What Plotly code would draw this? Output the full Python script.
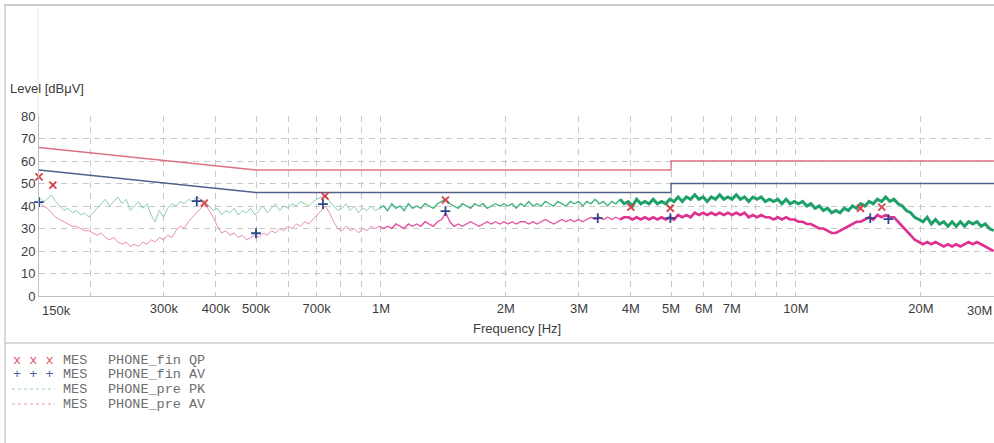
import plotly.graph_objects as go

# ---------------- data ----------------
# sweep grid: 0.01-decade steps from 150 kHz
F0 = 150e3
STEP_DEC = 0.01

pk_level = [
    44, 42, 43, 45, 42, 40, 38, 39, 37, 38,
    36, 37, 35, 37, 39, 41, 43, 40, 42, 44,
    41, 43, 38, 40, 42, 39, 41, 36, 33, 38,
    35, 39, 41, 40, 42, 41, 43, 42, 44, 43,
    42, 40, 38, 39, 36, 38, 37, 39, 36, 38,
    37, 39, 36,
    38, 40, 37, 39, 41, 38, 40, 39, 41, 40, 42, 41, 40, 42, 43, 44, 45,
    42, 40, 38, 39, 41, 38, 40, 37, 39, 38, 40, 38, 39,
    40, 38, 41, 39, 40, 38, 41, 39, 40, 39, 41, 40, 39, 41, 42,
    43,
    41, 40, 39, 41, 40, 39, 41, 40, 41, 39, 40, 41, 40,
    41, 40, 41, 39, 41, 40, 42, 40, 41, 40, 42, 41, 40, 42, 41, 40, 42, 41,
    42, 40, 42, 41, 43, 41, 42, 40, 42, 41, 43, 41, 42, 40, 43, 41, 42, 41, 43, 41, 42, 41,
    43, 42, 44, 42, 44, 43, 45, 43, 44, 42, 44, 43, 45, 43, 44, 43,
    45, 43, 44, 42, 44, 43, 44, 42, 43, 42, 43, 41, 43, 41,
    42, 41, 42, 40, 41, 39, 40, 38, 39, 37, 38,
    37, 39, 38, 40, 39, 41, 40, 42, 41, 43, 42, 44, 42,
    43, 41, 40, 38, 37, 35, 34,
    33, 35, 32, 34, 32, 33, 31, 33, 31, 33, 31, 33, 32, 33, 31, 32, 30, 29,
]

av_level = [
    42, 40, 39, 37, 35, 34, 33, 32, 31, 31, 30, 29, 29,
    28, 27, 28, 26, 25, 26, 24, 23, 24, 22, 23, 22, 24, 23, 25, 24, 26,
    25, 27, 26, 29, 31, 30, 33, 35, 37, 39, 41,
    38, 35, 31, 28, 29, 27, 28, 26, 27, 25, 26, 27,
    26, 28, 27, 29, 28, 30, 29, 31, 30, 32, 31, 33, 32, 34, 36, 38, 40,
    37, 33, 30, 29, 31, 29, 30, 28, 30, 29, 31, 30, 31,
    30, 31, 30, 32, 31, 30, 32, 31, 32, 31, 33, 32, 31, 33, 34,
    37,
    33, 31, 32, 31, 32, 33, 32, 31, 32, 33, 32, 33, 32,
    33, 32, 33, 32, 33, 33, 32, 33, 32, 33, 34, 33, 32, 33, 34, 33, 34, 33,
    34, 33, 34, 35, 34, 35, 34, 35, 34, 35, 34, 35, 35, 34, 35, 34, 35, 34, 35, 34, 35, 34,
    35, 34, 36, 35, 36, 35, 37, 36, 37, 36, 37, 36, 37, 36, 37, 36,
    37, 36, 37, 35, 36, 35, 36, 35, 35, 34, 35, 34, 35, 34,
    34, 33, 33, 32, 32, 31, 30, 30, 29, 28, 28,
    29, 30, 31, 32, 33, 33, 34, 35, 34, 36, 35, 36, 35,
    35, 33, 31, 29, 27, 25, 24,
    23, 24, 23, 24, 23, 22, 23, 22, 23, 22, 23, 24, 23, 24, 23, 22, 21, 20,
]

# limit lines (EN 55022 class B)
lim_freq = [150e3, 500e3, 5e6, 5e6, 30e6]
qp_limit = [66, 56, 56, 60, 60]
av_limit = [56, 46, 46, 50, 50]

# final measurement points
qp_freq = [150e3, 162e3, 375e3, 733e3, 1.43e6, 4.0e6, 4.98e6, 14.3e6, 16.1e6]
qp_level = [52.9, 49.3, 41.3, 44.4, 42.6, 39.5, 39.0, 39.0, 39.5]
av_freq = [150e3, 360e3, 500e3, 725e3, 1.43e6, 3.33e6, 4.98e6, 15.1e6, 16.7e6]
av_mlevel = [41.7, 42.2, 27.9, 40.8, 37.7, 34.6, 34.6, 34.6, 34.2]

tick_vals = [150e3, 200e3, 300e3, 400e3, 500e3, 600e3, 700e3, 800e3, 900e3,
             1e6, 2e6, 3e6, 4e6, 5e6, 6e6, 7e6, 8e6, 9e6, 10e6, 20e6, 30e6]
tick_text = ["", "", "300k", "400k", "500k", "", "700k", "", "",
             "1M", "2M", "3M", "4M", "5M", "6M", "7M", "", "", "10M", "20M", ""]

legend_rows = [
    ("x x x", "MES", "PHONE_fin QP"),
    ("+ + +", "MES", "PHONE_fin AV"),
    ("", "MES", "PHONE_pre PK"),
    ("", "MES", "PHONE_pre AV"),
]

# ---------------- styling ----------------
W, H = 994, 443
ML, MR, MT, MB = 39, 0, 116, 147
PW, PH = W - ML - MR, H - MT - MB

def px2x(px):
    return (px - ML) / PW

def px2y(py):
    return (H - MB - py) / PH

C_QP_LIM = "rgb(222,112,134)"
C_AV_LIM = "rgb(80,96,138)"
C_QP_MK = "rgb(214,64,76)"
C_AV_MK = "rgb(48,70,140)"
GRID = "rgb(200,200,200)"
TXT = "rgb(60,60,60)"
FONT = "Liberation Sans, Arial, sans-serif"
MONO = "Liberation Mono, Courier New, monospace"

# the scan looks faint at low frequency and dense (thick) at high frequency
segments = [  # (start index, end index, colour PK, colour AV, width PK, width AV)
    (0, 83, "rgb(140,205,175)", "rgb(232,140,185)", 1.0, 1.0),
    (82, 141, "rgb(70,180,130)", "rgb(226,80,160)", 1.4, 1.4),
    (140, 231, "rgb(30,160,105)", "rgb(222,50,145)", 3.0, 2.6),
]

pk_freq = [F0 * 10 ** (STEP_DEC * i) for i in range(len(pk_level))]
av_freq_sweep = [F0 * 10 ** (STEP_DEC * i) for i in range(len(av_level))]

fig = go.Figure()
for a, b, cpk, cav, wpk, wav in segments:
    fig.add_trace(go.Scatter(x=pk_freq[a:b], y=pk_level[a:b], mode="lines",
                             line=dict(color=cpk, width=wpk), name="MES PHONE_pre PK"))
for a, b, cpk, cav, wpk, wav in segments:
    fig.add_trace(go.Scatter(x=av_freq_sweep[a:b], y=av_level[a:b], mode="lines",
                             line=dict(color=cav, width=wav), name="MES PHONE_pre AV"))
fig.add_trace(go.Scatter(x=lim_freq, y=qp_limit, mode="lines",
                         line=dict(color=C_QP_LIM, width=1.3), name="QP limit"))
fig.add_trace(go.Scatter(x=lim_freq, y=av_limit, mode="lines",
                         line=dict(color=C_AV_LIM, width=1.3), name="AV limit"))
fig.add_trace(go.Scatter(x=qp_freq, y=qp_level, mode="markers", cliponaxis=False,
                         marker=dict(symbol="x-thin", size=7, color=C_QP_MK,
                                     line=dict(color=C_QP_MK, width=1.8)),
                         name="MES PHONE_fin QP"))
fig.add_trace(go.Scatter(x=av_freq, y=av_mlevel, mode="markers", cliponaxis=False,
                         marker=dict(symbol="cross-thin", size=7, color=C_AV_MK,
                                     line=dict(color=C_AV_MK, width=1.8)),
                         name="MES PHONE_fin AV"))

fig.update_xaxes(type="log", range=[5.17609, 7.47712], tickmode="array",
                 tickvals=tick_vals, ticktext=tick_text,
                 showgrid=True, gridcolor=GRID, griddash="6px,5px", gridwidth=1,
                 showline=True, linecolor="rgb(190,190,190)", linewidth=1,
                 ticks="", tickfont=dict(family=FONT, size=13, color=TXT),
                 zeroline=False)
fig.update_yaxes(range=[0, 80], tickmode="array", tickvals=list(range(0, 90, 10)),
                 showgrid=True, gridcolor=GRID, griddash="6px,5px", gridwidth=1,
                 showline=True, linecolor="rgb(190,190,190)", linewidth=1,
                 ticks="", tickfont=dict(family=FONT, size=13, color=TXT),
                 zeroline=False)

annotations = [
    dict(text="Level [dBμV]", x=px2x(8), y=px2y(88), xanchor="left", yanchor="middle",
         font=dict(family=FONT, size=13, color=TXT)),
    dict(text="Frequency [Hz]", x=0.5, y=px2y(328), xanchor="center", yanchor="middle",
         font=dict(family=FONT, size=13, color=TXT)),
    dict(text="150k", x=px2x(40), y=px2y(310), xanchor="left", yanchor="middle",
         font=dict(family=FONT, size=13, color=TXT)),
    dict(text="30M", x=px2x(994), y=px2y(310), xanchor="right", yanchor="middle",
         font=dict(family=FONT, size=13, color=TXT)),
]

row_y = [360, 374.5, 389, 404]
sym_colors = ["rgb(220,90,100)", "rgb(70,95,165)"]
for k, (sym, mes, name) in enumerate(legend_rows):
    if sym:
        annotations.append(dict(text=sym, x=px2x(11), y=px2y(row_y[k]), xanchor="left",
                                yanchor="middle",
                                font=dict(family=MONO, size=13.5, color=sym_colors[k])))
    annotations.append(dict(text=mes, x=px2x(61), y=px2y(row_y[k]), xanchor="left",
                            yanchor="middle", font=dict(family=MONO, size=13.5,
                                                        color="rgb(110,110,110)")))
    annotations.append(dict(text=name, x=px2x(106), y=px2y(row_y[k]), xanchor="left",
                            yanchor="middle", font=dict(family=MONO, size=13.5,
                                                        color="rgb(110,110,110)")))
for a in annotations:
    a.update(xref="paper", yref="paper", showarrow=False)

frame = "rgb(205,205,205)"
shapes = [
    dict(type="line", x0=px2x(4), x1=px2x(994), y0=px2y(5), y1=px2y(5),
         line=dict(color=frame, width=2)),
    dict(type="line", x0=px2x(5), x1=px2x(5), y0=px2y(5), y1=px2y(443),
         line=dict(color=frame, width=1.5)),
    dict(type="line", x0=px2x(5), x1=px2x(994), y0=px2y(343), y1=px2y(343),
         line=dict(color=frame, width=1.5)),
    dict(type="line", x0=px2x(38), x1=px2x(38), y0=px2y(8), y1=px2y(116),
         line=dict(color="rgb(235,235,235)", width=1)),
    dict(type="line", x0=px2x(12), x1=px2x(55), y0=px2y(row_y[2]), y1=px2y(row_y[2]),
         line=dict(color="rgb(150,205,190)", width=1, dash="dot")),
    dict(type="line", x0=px2x(12), x1=px2x(55), y0=px2y(row_y[3]), y1=px2y(row_y[3]),
         line=dict(color="rgb(232,150,175)", width=1, dash="dot")),
]
for s in shapes:
    s.update(xref="paper", yref="paper", layer="above")

fig.update_layout(width=W, height=H, margin=dict(l=ML, r=MR, t=MT, b=MB),
                  paper_bgcolor="white", plot_bgcolor="white", showlegend=False,
                  annotations=annotations, shapes=shapes)

fig.write_html("out.html")
